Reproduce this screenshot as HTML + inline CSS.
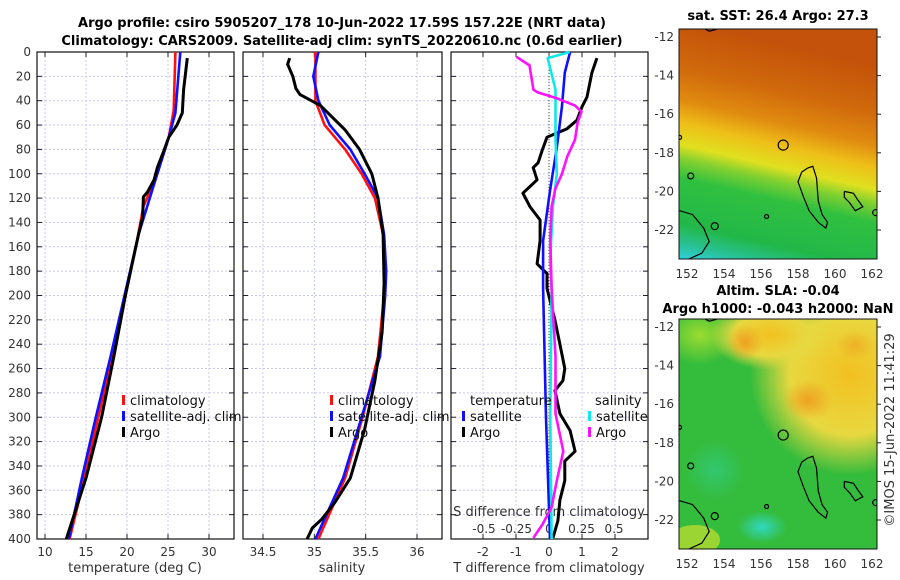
<!DOCTYPE html>
<html><head><meta charset="utf-8">
<style>
html,body{margin:0;padding:0;background:#fff;}
svg{display:block;font-family:"DejaVu Sans","Liberation Sans",sans-serif;}
.tk{font-size:12px;fill:#333;}
.ttl{font-size:13px;font-weight:bold;fill:#000;}
.lab{font-size:13px;fill:#333;}
.lg{font-size:13px;fill:#111;}
</style></head>
<body>
<svg id="fig" width="900" height="580" viewBox="0 0 900 580">
<defs>
<linearGradient id="sstg" x1="0.2" y1="0" x2="0" y2="1">
<stop offset="0" stop-color="#c4520a"/>
<stop offset="0.2" stop-color="#d06a0c"/>
<stop offset="0.33" stop-color="#e08a10"/>
<stop offset="0.43" stop-color="#eec018"/>
<stop offset="0.52" stop-color="#e0e020"/>
<stop offset="0.58" stop-color="#80d030"/>
<stop offset="0.66" stop-color="#30c040"/>
<stop offset="0.85" stop-color="#22b848"/>
<stop offset="0.93" stop-color="#28c090"/>
<stop offset="1" stop-color="#30d0e0"/>
</linearGradient>
<radialGradient id="slay" cx="0.5" cy="0.5" r="0.5">
<stop offset="0" stop-color="#f2c020"/><stop offset="0.6" stop-color="#e8d840"/><stop offset="1" stop-color="#e8d840" stop-opacity="0"/>
</radialGradient>
<radialGradient id="slao" cx="0.5" cy="0.5" r="0.5">
<stop offset="0" stop-color="#eea020"/><stop offset="1" stop-color="#eea020" stop-opacity="0"/>
</radialGradient>
<radialGradient id="slac" cx="0.5" cy="0.5" r="0.5">
<stop offset="0" stop-color="#30d8c0"/><stop offset="1" stop-color="#30d8c0" stop-opacity="0"/>
</radialGradient>
<radialGradient id="slag" cx="0.5" cy="0.5" r="0.5">
<stop offset="0" stop-color="#9cdc30"/><stop offset="1" stop-color="#9cdc30" stop-opacity="0"/>
</radialGradient>
<clipPath id="mc1"><rect x="679" y="29" width="198" height="230"/></clipPath>
<clipPath id="mc2"><rect x="679" y="319" width="198" height="230"/></clipPath>
</defs>
<text class="ttl" x="342" y="27" text-anchor="middle">Argo profile: csiro 5905207_178 10-Jun-2022 17.59S 157.22E (NRT data)</text>
<text class="ttl" x="342" y="45" text-anchor="middle">Climatology: CARS2009. Satellite-adj clim: synTS_20220610.nc (0.6d earlier)</text>
<g id="panels"></g>
<g id="maps"></g>
<text class="lab" transform="translate(894,430) rotate(-90)" text-anchor="middle">©IMOS 15-Jun-2022 11:41:29</text>
</svg>
<script>
// ---- depth axis ----
const depthTicks = [0,20,40,60,80,100,120,140,160,180,200,220,240,260,280,300,320,340,360,380,400];
// ---- temperature panel ----
const tTicks = [10,15,20,25,30];
const tClimDepth = [0,48,70,100,127,152,200,250,300,350,400];
const tClim = [25.9,25.7,25.1,23.7,22.0,21.3,19.8,18.2,16.5,14.8,13.0];
const tSatDepth = [0,50,70,100,150,200,250,300,350,400];
const tSat = [26.5,25.9,25.1,23.7,21.4,19.7,18.0,16.2,14.5,12.9];
const tArgoDepth = [5,31,50,60,70,81,95,105,115,119,136,150,175,200,250,300,350,400];
const tArgo = [27.35,26.9,26.75,26.1,25.1,24.5,23.7,23.3,22.5,22.0,21.9,21.4,20.6,19.8,18.4,16.9,15.0,12.6];
// ---- salinity panel ----
const sTicks = [34.5,35,35.5,36];
const sTickLabels = ["34.5","35","35.5","36"];
const sClimDepth = [0,40,60,80,100,120,150,180,200,250,300,350,400];
const sClim = [35.01,35.01,35.10,35.30,35.46,35.59,35.67,35.69,35.68,35.62,35.47,35.30,35.04];
const sSatDepth = [0,20,40,60,80,100,120,150,180,200,250,300,350,400];
const sSat = [35.04,34.99,35.04,35.15,35.35,35.49,35.62,35.68,35.70,35.69,35.64,35.46,35.28,35.01];
const sArgoDepth = [5,10,20,30,35,44,64,80,100,120,150,190,230,270,310,350,370,384,391,400];
const sArgo = [34.76,34.74,34.79,34.82,34.86,35.06,35.30,35.44,35.56,35.62,35.67,35.68,35.66,35.59,35.49,35.35,35.2,35.07,34.98,34.93];
// ---- difference panel ----
const dTTicks = [-2,-1,0,1,2];
const dSTicks = [-0.5,-0.25,0,0.25,0.5];
const dSTickLabels = ["-0.5","-0.25","0","0.25","0.5"];
const dTArgoDepth = [5,17,37,45,56,63,70,81,91,95,105,116,127,138,155,174,182,194,220,240,260,270,278,297,311,328,336,352,368,385,399];
const dTArgo = [1.45,1.30,1.15,1.0,0.85,0.55,-0.06,-0.21,-0.33,-0.48,-0.36,-0.79,-0.58,-0.27,-0.27,-0.36,-0.06,-0.06,0.18,0.33,0.48,0.42,0.18,0.33,0.64,0.79,0.48,0.48,0.33,0.27,0.12];
const dTSatDepth = [0,17,45,78,114,155,194,300,400];
const dTSat = [0.64,0.48,0.39,0.24,0.03,-0.18,-0.18,-0.09,0.03];
const dSSatDepth = [0,5,31,72,100,127,169,194,300,400];
const dSSat = [0.16,-0.01,0.05,0.05,0.06,0.03,0.01,0.02,0.01,0.02];
const dSArgoDepth = [4,11,31,33,38,44,49,58,72,86,100,112,127,155,194,250,270,297,328,352,374,388,399];
const dSArgo = [-0.25,-0.15,-0.12,-0.09,0.06,0.20,0.25,0.22,0.20,0.14,0.10,0.05,0.02,0.01,0.02,0.05,0.05,0.05,0.11,0.06,0.02,-0.05,-0.12];
// ---- maps ----
const latTicks = [-12,-14,-16,-18,-20,-22];
const lonTicks = [152,154,156,158,160,162];

const NS = "http://www.w3.org/2000/svg";
function mk(tag, attrs, parent){const e=document.createElementNS(NS,tag);for(const k in attrs)e.setAttribute(k,attrs[k]);parent.appendChild(e);return e;}
const yD = d => 52 + d*(539-52)/400;
const xT = v => 45 + (v-10)*(209-45)/20;
const xS = v => 263 + (v-34.5)*(417-263)/1.5;
const xDT = v => 549 + v*33;
const xDS = v => 549 + v*130;

const G = document.getElementById('panels');
const panels = [{x0:37,x1:234,name:'temperature-panel'},{x0:243,x1:442,name:'salinity-panel'},{x0:451,x1:648,name:'difference-panel'}];
const gridTs = [tTicks.map(xT), sTicks.map(xS), dTTicks.map(xDT)];
panels.forEach((p,i)=>{
  const g = mk('g',{},G);
  
  
  depthTicks.forEach(d=>{
    const l = mk('line',{x1:p.x0,x2:p.x1,y1:yD(d),y2:yD(d),stroke:'#c8c8ee','stroke-width':1,'stroke-dasharray':'2,2'},g);
    
    
    mk('line',{x1:p.x0,x2:p.x0+5,y1:yD(d),y2:yD(d),stroke:'#222'},g);
    mk('line',{x1:p.x1-5,x2:p.x1,y1:yD(d),y2:yD(d),stroke:'#222'},g);
  });
  gridTs[i].forEach(x=>{
    const l = mk('line',{x1:x,x2:x,y1:52,y2:539,stroke:'#c8c8ee','stroke-width':1,'stroke-dasharray':'2,2'},g);
    
    
    mk('line',{x1:x,x2:x,y1:52,y2:57,stroke:'#222'},g);
    mk('line',{x1:x,x2:x,y1:534,y2:539,stroke:'#222'},g);
  });
  const r = mk('rect',{x:p.x0,y:52,width:p.x1-p.x0,height:487,fill:'none',stroke:'#111','stroke-width':1.2},g);
  
  
});
depthTicks.forEach(d=>{
  const t = mk('text',{x:31,y:yD(d)+4,'text-anchor':'end',class:'tk'},G);
  t.textContent = d;
  
  
});
function ticksX(vals,labels,fx,y,name){
  vals.forEach((v,i)=>{
    const t = mk('text',{x:fx(v),y:y,'text-anchor':'middle',class:'tk'},G);
    t.textContent = labels ? labels[i] : v;
    
    
  });
}
ticksX(tTicks,null,xT,556,'temperature-tick-label');
ticksX(sTicks,sTickLabels,xS,556,'salinity-tick-label');
ticksX(dTTicks,null,xDT,556,'t-diff-tick-label');
ticksX(dSTicks,dSTickLabels,xDS,533,'s-diff-tick-label');
function axLabel(txt,x,y,name){const t=mk('text',{x:x,y:y,'text-anchor':'middle',class:'lab'},G);t.textContent=txt;}
axLabel('temperature (deg C)',135,572,'x-axis-title-temperature');
axLabel('salinity',342,572,'x-axis-title-salinity');
axLabel('T difference from climatology',549,572,'x-axis-title-t-diff');
axLabel('S difference from climatology',549,516,'x-axis-title-s-diff');
const z = mk('line',{x1:549,x2:549,y1:52,y2:539,stroke:'#3a5a20','stroke-width':1,'stroke-dasharray':'1,2'},G);



function line(depths,vals,fx,color,name,w){
  const pts = depths.map((d,i)=>fx(vals[i]).toFixed(1)+','+yD(d).toFixed(1)).join(' ');
  const pl = mk('polyline',{points:pts,fill:'none',stroke:color,'stroke-width':w||2.6,'stroke-linejoin':'round'},G);
  
  
}
line(tClimDepth,tClim,xT,'#ff1010','temperature-climatology-line');
line(tSatDepth,tSat,xT,'#1010ff','temperature-satellite-line');
line(tArgoDepth,tArgo,xT,'#000','temperature-argo-line',3);
line(sClimDepth,sClim,xS,'#ff1010','salinity-climatology-line');
line(sSatDepth,sSat,xS,'#1010ff','salinity-satellite-line');
line(sArgoDepth,sArgo,xS,'#000','salinity-argo-line',3);
line(dTArgoDepth,dTArgo,xDT,'#000','t-diff-argo-line',3);
line(dTSatDepth,dTSat,xDT,'#1010ff','t-diff-satellite-line');
line(dSSatDepth,dSSat,xDS,'#10e8e8','s-diff-satellite-line');
line(dSArgoDepth,dSArgo,xDS,'#ff10ff','s-diff-argo-line');

function legend(x,y,color,txt,name){
  const g = mk('g',{},G);
  
  
  mk('rect',{x:x,y:y-10,width:3,height:10,fill:color},g);
  const t = mk('text',{x:x+8,y:y,class:'lg'},g);
  t.textContent = txt;
}
legend(122,405,'#ff1010','climatology','legend-entry-climatology');
legend(122,421,'#1010ff','satellite-adj. clim','legend-entry-satellite-adj');
legend(122,437,'#000','Argo','legend-entry-argo');
legend(330,405,'#ff1010','climatology','legend-entry-climatology-s');
legend(330,421,'#1010ff','satellite-adj. clim','legend-entry-satellite-adj-s');
legend(330,437,'#000','Argo','legend-entry-argo-s');
{const t=mk('text',{x:470,y:405,class:'lg'},G);t.textContent='temperature';}
{const t=mk('text',{x:595,y:405,class:'lg'},G);t.textContent='salinity';}
legend(462,421,'#1010ff','satellite','legend-entry-t-satellite');
legend(462,437,'#000','Argo','legend-entry-t-argo');
legend(588,421,'#10e8e8','satellite','legend-entry-s-satellite');
legend(588,437,'#ff10ff','Argo','legend-entry-s-argo');

// ---- maps ----
const M = document.getElementById('maps');
const lonX = lon => 687 + (lon-152)*18.5;
const latY = (lat,off) => off + 37 + (-12-lat)*19.3;
function coast(g,off){
  const P = (lon,lat)=>lonX(lon).toFixed(1)+','+latY(lat,off).toFixed(1);
  const paths = [
    [[158.5,-18.8],[158.8,-18.7],[159.0,-19.3],[159.1,-20.5],[159.3,-21.2],[159.6,-21.6],[159.5,-21.9],[159.1,-21.6],[158.6,-21.0],[158.3,-20.3],[158.0,-19.5],[158.2,-19.0],[158.5,-18.8]],
    [[151.6,-21.0],[152.3,-21.2],[152.9,-21.9],[153.2,-22.6],[152.8,-23.2],[152.1,-23.5]],
    [[160.5,-20.0],[161.0,-20.1],[161.2,-20.4],[161.5,-20.8],[161.1,-21.0],[160.8,-20.6],[160.5,-20.3],[160.5,-20.0]],
    [[153.0,-11.6],[153.2,-11.7],[153.6,-11.6]]
  ];
  paths.forEach(p=>{
    const pl = mk('polyline',{points:p.map(q=>P(q[0],q[1])).join(' '),fill:'none',stroke:'#000','stroke-width':1.2},g);
    
    
  });
  const circ = [[157.2,-17.6,5],[152.2,-19.2,3],[153.5,-21.8,3.5],[156.3,-21.3,2],[162.2,-21.1,3],[151.6,-17.2,2]];
  circ.forEach(c=>{
    const e = mk('circle',{cx:lonX(c[0]),cy:latY(c[1],off),r:c[2],fill:'none',stroke:'#000','stroke-width':1.2},g);
    
    
  });
}
function mapGroup(name){
  const g = mk('g',{},M);
  
  
  return g;
}
{
  const g = mapGroup('sst-map');
  const c = mk('g',{'clip-path':'url(#mc1)'},g);
  mk('rect',{x:679,y:29,width:198,height:230,fill:'url(#sstg)'},c);
  coast(c,0);
  mk('rect',{x:679,y:29,width:198,height:230,fill:'none',stroke:'#111'},g);
  const t = mk('text',{x:778,y:20,'text-anchor':'middle',class:'ttl'},g);
  t.textContent = 'sat. SST: 26.4 Argo: 27.3';
}
{
  const g = mapGroup('sla-map');
  const c = mk('g',{'clip-path':'url(#mc2)'},g);
  mk('rect',{x:679,y:319,width:198,height:230,fill:'#34bc3c'},c);
  mk('ellipse',{cx:700,cy:335,rx:40,ry:30,fill:'url(#slag)'},c);
  mk('ellipse',{cx:850,cy:375,rx:100,ry:100,fill:'url(#slay)'},c);
  mk('ellipse',{cx:770,cy:335,rx:60,ry:35,fill:'url(#slay)'},c);
  mk('ellipse',{cx:745,cy:342,rx:18,ry:18,fill:'url(#slao)'},c);
  mk('ellipse',{cx:808,cy:400,rx:25,ry:20,fill:'url(#slao)'},c);
  mk('ellipse',{cx:855,cy:345,rx:20,ry:15,fill:'url(#slao)',opacity:0.6},c);
  mk('ellipse',{cx:762,cy:527,rx:25,ry:16,fill:'url(#slac)'},c);
  mk('ellipse',{cx:715,cy:470,rx:30,ry:30,fill:'url(#slac)',opacity:0.4},c);
  mk('ellipse',{cx:695,cy:540,rx:25,ry:15,fill:'#c8e030',opacity:0.7},c);
  coast(c,290);
  mk('rect',{x:679,y:319,width:198,height:230,fill:'none',stroke:'#111'},g);
  const t1 = mk('text',{x:778,y:295,'text-anchor':'middle',class:'ttl'},g);
  t1.textContent = 'Altim. SLA: -0.04';
  const t2 = mk('text',{x:778,y:313,'text-anchor':'middle',class:'ttl'},g);
  t2.textContent = 'Argo h1000: -0.043 h2000: NaN';
}
[0,290].forEach(off=>{
  latTicks.forEach(lat=>{
    const y = latY(lat,off);
    const t = mk('text',{x:674,y:y+4,'text-anchor':'end',class:'tk'},M);
    t.textContent = lat;
    
    
    mk('line',{x1:877,x2:881,y1:y,y2:y,stroke:'#222'},M);
  });
  lonTicks.forEach(lon=>{
    const t = mk('text',{x:lonX(lon),y:off+278,'text-anchor':'middle',class:'tk'},M);
    t.textContent = lon;
    
    
  });
});
</script>
</body></html>
